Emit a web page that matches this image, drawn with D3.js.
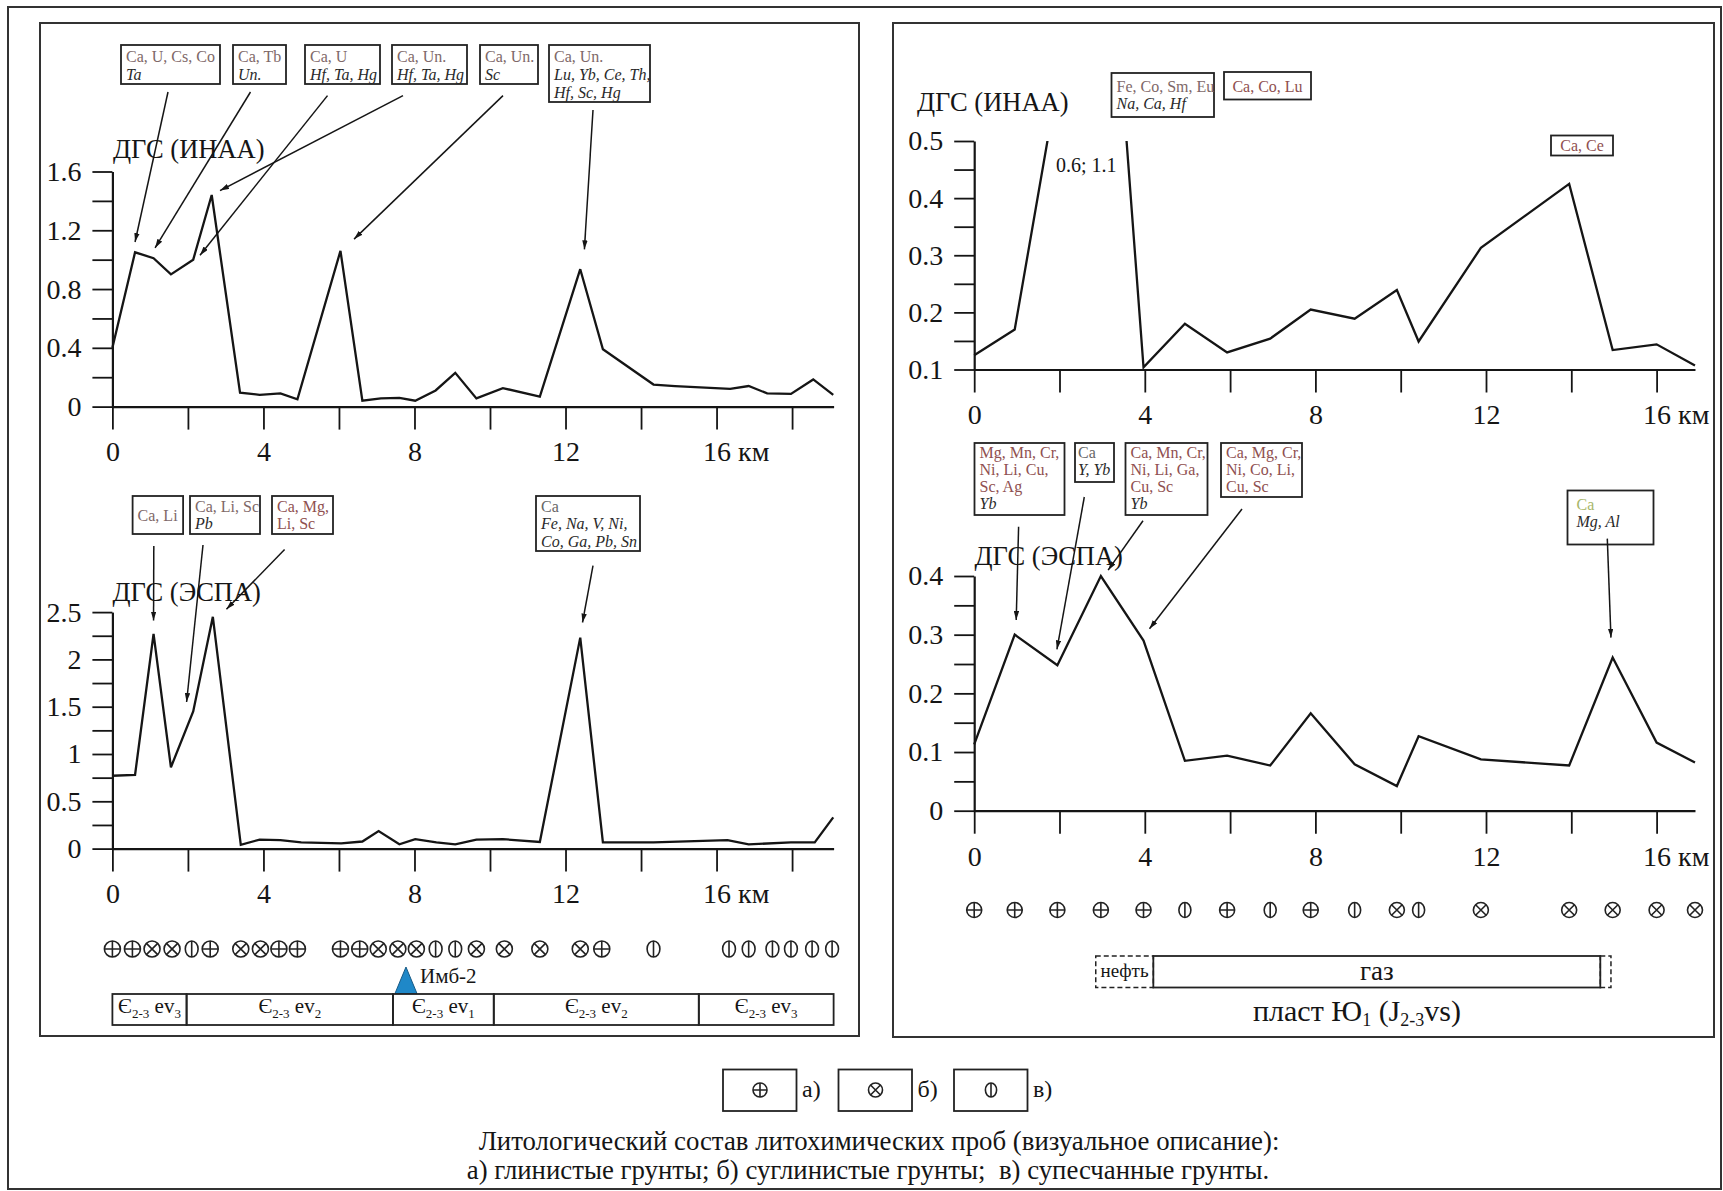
<!DOCTYPE html>
<html><head><meta charset="utf-8">
<script src="https://cdn.jsdelivr.net/npm/d3@7"></script>
<style>
body{margin:0;background:#fff}
svg{display:block}
svg text{font-family:"Liberation Serif","Times New Roman",Times,"DejaVu Serif","Noto Serif",serif}
</style></head><body>
<script>
// ---------- profile through the Imbinskaya area (left) ----------
const leftInaaKm  = [0, 0.6, 1.09, 1.55, 2.14, 2.63, 3.38, 3.9, 4.45, 4.9, 6.04, 6.62, 7.11, 7.6, 8.02, 8.56, 9.08, 9.64, 10.34, 11.32, 12.39, 12.99, 14.33, 14.9, 16.36, 16.85, 17.34, 17.97, 18.56, 19.09];
const leftInaaVal = [0.40, 1.05, 1.01, 0.90, 1.00, 1.44, 0.095, 0.08, 0.09, 0.05, 1.06, 0.04, 0.056, 0.06, 0.04, 0.11, 0.23, 0.056, 0.126, 0.068, 0.935, 0.39, 0.15, 0.14, 0.12, 0.14, 0.09, 0.086, 0.185, 0.08];

const leftEspaKm  = [0, 0.6, 1.09, 1.55, 2.14, 2.66, 3.4, 3.9, 4.45, 5.0, 6.06, 6.62, 7.05, 7.6, 8.02, 8.58, 9.08, 9.64, 10.34, 11.32, 12.39, 12.99, 14.33, 16.29, 16.85, 17.97, 18.6, 19.09];
const leftEspaVal = [0.77, 0.78, 2.27, 0.86, 1.45, 2.45, 0.04, 0.095, 0.09, 0.065, 0.055, 0.075, 0.185, 0.045, 0.10, 0.065, 0.045, 0.095, 0.10, 0.07, 2.23, 0.065, 0.065, 0.09, 0.045, 0.065, 0.065, 0.33];

// soil type of each sample: a = clay, b = loam, c = sandy loam
const leftSoilKm   = [0, 0.53, 1.05, 1.58, 2.1, 2.59, 3.4, 3.92, 4.41, 4.9, 6.04, 6.55, 7.04, 7.56, 8.05, 8.56, 9.08, 9.64, 10.38, 11.32, 12.39, 12.96, 14.33, 16.33, 16.85, 17.48, 17.97, 18.53, 19.06];
const leftSoilType = ["a","a","b","b","c","a","b","b","a","a","a","a","b","b","b","c","c","b","b","b","b","a","c","c","c","c","c","c","c"];

// stratigraphy along the profile (boundaries in km, ev index)
const stratEdges = [0, 1.965, 7.43, 10.1, 15.53, 19.1];
const stratIndex = ["3", "2", "1", "2", "3"];
const wellName = "Имб-2";
const wellKm = 7.775;

// ---------- profile across the field (right) ----------
const rightKm       = [0, 0.95, 1.95, 2.97, 3.97, 4.94, 5.93, 6.94, 7.89, 8.92, 9.91, 10.42, 11.88, 13.95, 14.97, 16.0, 16.9];
const rightInaaVal  = [0.125, 0.17, 0.6, 1.1, 0.104, 0.18, 0.13, 0.154, 0.205, 0.189, 0.239, 0.149, 0.313, 0.425, 0.134, 0.144, 0.107];
const rightEspaVal  = [0.113, 0.30, 0.248, 0.40, 0.29, 0.085, 0.094, 0.077, 0.166, 0.079, 0.042, 0.127, 0.0875, 0.077, 0.261, 0.116, 0.082];
const rightSoilType = ["a","a","a","a","a","c","a","c","a","c","b","c","b","b","b","b","b"];

const reservoirNames = ["нефть", "газ", ""];
const reservoirFrom  = [2.85, 4.2, 14.68];
const reservoirTo    = [4.2, 14.68, 14.93];
const reservoirSure  = [false, true, false];

// ---------- ticks ----------
const leftKmTicks  = [0, 2, 4, 6, 8, 10, 12, 14, 16, 18];
const rightKmTicks = [0, 2, 4, 6, 8, 10, 12, 14, 16];
const leftInaaMajor  = [0, 0.4, 0.8, 1.2, 1.6],   leftInaaMinor  = [0.2, 0.6, 1.0, 1.4];
const leftEspaMajor  = [0, 0.5, 1, 1.5, 2, 2.5],  leftEspaMinor  = [0.25, 0.75, 1.25, 1.75, 2.25];
const rightInaaMajor = [0.1, 0.2, 0.3, 0.4, 0.5], rightInaaMinor = [0.15, 0.25, 0.35, 0.45];
const rightEspaMajor = [0, 0.1, 0.2, 0.3, 0.4],   rightEspaMinor = [0.05, 0.15, 0.25, 0.35];

// ---------- element lists of anomalies
// (r = concentrating, q = concentrating, faint, g = neutral, o = olive, i = dispersed) ----------
const leftInaaNotes = [
  [["Ca, U, Cs, Co","q"],["Ta","i"]],
  [["Ca, Tb","q"],["Un.","i"]],
  [["Ca, U","q"],["Hf, Ta, Hg","i"]],
  [["Ca, Un.","q"],["Hf, Ta, Hg","i"]],
  [["Ca, Un.","q"],["Sc","i"]],
  [["Ca, Un.","q"],["Lu, Yb, Ce, Th,","i"],["Hf, Sc, Hg","i"]]
];
const leftEspaNotes = [
  [["Ca, Li","q"]],
  [["Ca, Li, Sc","q"],["Pb","i"]],
  [["Ca, Mg,","r"],["Li, Sc","r"]],
  [["Ca","g"],["Fe, Na, V, Ni,","i"],["Co, Ga, Pb, Sn","i"]]
];
const rightInaaNotes = [
  [["Fe, Co, Sm, Eu","q"],["Na, Ca, Hf","i"]],
  [["Ca, Co, Lu","r"]],
  [["Ca, Ce","r"]]
];
const rightEspaNotes = [
  [["Mg, Mn, Cr,","r"],["Ni, Li, Cu,","r"],["Sc, Ag","r"],["Yb","i"]],
  [["Ca","g"],["Y, Yb","i"]],
  [["Ca, Mn, Cr,","r"],["Ni, Li, Ga,","r"],["Cu, Sc","r"],["Yb","i"]],
  [["Ca, Mg, Cr,","r"],["Ni, Co, Li,","r"],["Cu, Sc","r"]],
  [["Ca","o"],["Mg, Al","i"]]
];
const legendKeys  = ["a", "b", "c"];
const legendMarks = ["а)", "б)", "в)"];
const captionLines = [
  "Литологический состав литохимических проб (визуальное описание):",
  "а) глинистые грунты; б) суглинистые грунты;  в) супесчанные грунты."
];

// ---------- layout ----------
const INK = "#151515";
const SERIF = '"Liberation Serif","Times New Roman",Times,"DejaVu Serif","Noto Serif",serif';
const noteColor = {r: "#8f5050", q: "#7e6868", g: "#666", o: "#a8b66a", i: "#2a2a2a"};

const svg = d3.select("body").append("svg").attr("width", 1723).attr("height", 1191)
  .style("font-family", SERIF);
svg.append("rect").attr("width", 1723).attr("height", 1191).attr("fill", "#fff");

const defs = svg.append("defs");
defs.append("marker").attr("id", "head").attr("viewBox", "0 0 10 6")
  .attr("refX", 10).attr("refY", 3).attr("markerWidth", 9).attr("markerHeight", 5.5)
  .attr("markerUnits", "userSpaceOnUse").attr("orient", "auto")
  .append("path").attr("d", "M0,0L10,3L0,6z").attr("fill", INK);

// frames
svg.append("rect").attr("x", 8).attr("y", 7).attr("width", 1713).attr("height", 1182)
  .attr("fill", "none").attr("stroke", "#333").attr("stroke-width", 2);
svg.append("rect").attr("x", 40).attr("y", 23).attr("width", 819).attr("height", 1013)
  .attr("fill", "none").attr("stroke", "#333").attr("stroke-width", 2);
svg.append("rect").attr("x", 893).attr("y", 23).attr("width", 821).attr("height", 1014)
  .attr("fill", "none").attr("stroke", "#333").attr("stroke-width", 2);

// scales
const xL = d3.scaleLinear().domain([0, 19.1]).range([112.4, 112.4 + 19.1 * 37.76]);
const xR = d3.scaleLinear().domain([0, 16.9]).range([974.2, 974.2 + 16.9 * 42.65]);
const yLI = d3.scaleLinear().domain([0, 1.6]).range([406.6, 171.5]);
const yLE = d3.scaleLinear().domain([0, 2.5]).range([848.6, 612.1]);
const yRI = d3.scaleLinear().domain([0.1, 0.5]).range([369.5, 141]);
const yRE = d3.scaleLinear().domain([0, 0.4]).range([810.7, 576]);

function drawAxes(x, y, xTicks, yMajor, yMinor) {
  const ax = svg.append("g").attr("transform", `translate(0,${y.range()[0]})`)
    .call(d3.axisBottom(x).tickValues(xTicks).tickSize(23).tickSizeOuter(0).tickPadding(12)
      .tickFormat(d => d % 4 === 0 ? String(d) : ""));
  const ay = svg.append("g").attr("transform", `translate(${x.range()[0]},0)`)
    .call(d3.axisLeft(y).tickValues(yMajor.concat(yMinor)).tickSize(20).tickSizeOuter(0).tickPadding(11)
      .tickFormat(d => yMajor.includes(d) ? String(d) : ""));
  [ax, ay].forEach(a => {
    a.attr("font-size", 28).attr("font-family", null).style("font-family", SERIF);
    a.selectAll("path").attr("stroke", INK).attr("stroke-width", 2.2);
    a.selectAll("line").attr("stroke", INK).attr("stroke-width", 1.8);
    a.selectAll("text").attr("fill", INK);
  });
  ax.selectAll(".tick text").filter(d => d === 16).each(function () {
    const w = this.getComputedTextLength();
    d3.select(this).attr("text-anchor", "start").attr("x", -w / 2).text("16 км");
  });
}

function drawLine(km, val, x, y, clip) {
  const p = svg.append("path").datum(d3.zip(km, val))
    .attr("d", d3.line().x(d => x(d[0])).y(d => y(d[1])))
    .attr("fill", "none").attr("stroke", INK).attr("stroke-width", 2.3)
    .attr("stroke-linejoin", "miter").attr("stroke-miterlimit", 3);
  if (clip) p.attr("clip-path", `url(#${clip})`);
}

function title(txt, x, y) {
  svg.append("text").attr("x", x).attr("y", y).attr("font-size", 26.5).attr("fill", INK).text(txt);
}

function drawNotes(notes, boxes, x, y, b0, lh) {
  notes.forEach((lines, i) => {
    const b = boxes[i];
    const g = svg.append("g");
    g.append("rect").attr("x", b.x).attr("y", b.y).attr("width", b.w).attr("height", b.h)
      .attr("fill", "#fff").attr("stroke", "#222").attr("stroke-width", 1.8);
    lines.forEach((ln, j) => {
      const t = g.append("text")
        .attr("x", b.center ? b.x + b.w / 2 : b.x + (b.pad || 5))
        .attr("y", b.y + (b.b0 || b0) + j * lh)
        .attr("text-anchor", b.center ? "middle" : "start")
        .attr("font-size", 16).attr("fill", noteColor[ln[1]]).text(ln[0]);
      if (ln[1] === "i") t.attr("font-style", "italic");
    });
    if (b.from) {
      svg.append("line").attr("x1", b.from[0]).attr("y1", b.from[1])
        .attr("x2", x(b.tip[0])).attr("y2", y(b.tip[1]))
        .attr("stroke", INK).attr("stroke-width", 1.5).attr("marker-end", "url(#head)");
    }
  });
}

function soilMark(g, type, cx, cy, r) {
  const s = {fill: "none", stroke: "#222", "stroke-width": 1.6};
  const set = (el) => { Object.entries(s).forEach(([k, v]) => el.attr(k, v)); return el; };
  if (type === "c") {
    set(g.append("ellipse").attr("cx", cx).attr("cy", cy).attr("rx", r * 0.8).attr("ry", r));
    set(g.append("path").attr("d", `M${cx},${cy - r}V${cy + r}`));
  } else {
    set(g.append("circle").attr("cx", cx).attr("cy", cy).attr("r", r));
    const d = type === "a"
      ? `M${cx - r},${cy}H${cx + r}M${cx},${cy - r}V${cy + r}`
      : `M${cx - r * 0.707},${cy - r * 0.707}L${cx + r * 0.707},${cy + r * 0.707}M${cx + r * 0.707},${cy - r * 0.707}L${cx - r * 0.707},${cy + r * 0.707}`;
    set(g.append("path").attr("d", d));
  }
}

// ---------- left panel ----------
drawAxes(xL, yLI, leftKmTicks, leftInaaMajor, leftInaaMinor);
title("ДГС (ИНАА)", 113, 158);
drawLine(leftInaaKm, leftInaaVal, xL, yLI);
drawNotes(leftInaaNotes, [
  {x: 121, y: 45, w: 99, h: 39, from: [168, 92], tip: [0.6, 1.12]},
  {x: 233, y: 45, w: 53, h: 39, from: [250.5, 92], tip: [1.13, 1.08]},
  {x: 305, y: 45, w: 75, h: 39, from: [327.5, 95.6], tip: [2.32, 1.03]},
  {x: 392, y: 45, w: 75, h: 39, from: [403, 95.6], tip: [2.85, 1.47]},
  {x: 480, y: 45, w: 58, h: 39, from: [503, 95.6], tip: [6.4, 1.14]},
  {x: 549, y: 45, w: 101, h: 57, from: [593, 110], tip: [12.5, 1.07]}
], xL, yLI, 16.7, 18.3);

drawAxes(xL, yLE, leftKmTicks, leftEspaMajor, leftEspaMinor);
title("ДГС (ЭСПА)", 112.5, 601);
drawLine(leftEspaKm, leftEspaVal, xL, yLE);
drawNotes(leftEspaNotes, [
  {x: 132.6, y: 496, w: 50.5, h: 38, b0: 25, from: [153.8, 546], tip: [1.09, 2.41]},
  {x: 190, y: 496, w: 70, h: 38, from: [203, 545], tip: [1.965, 1.55]},
  {x: 272, y: 496, w: 61, h: 38, from: [284.6, 549.6], tip: [3.02, 2.53]},
  {x: 536, y: 496, w: 104, h: 55, from: [593, 565.7], tip: [12.45, 2.39]}
], xL, yLE, 15.5, 17.5);

const soilL = svg.append("g");
leftSoilKm.forEach((k, i) => soilMark(soilL, leftSoilType[i], xL(k), 949, 8));

// well
const wx = xL(wellKm);
svg.append("path").attr("d", `M${wx},967L${wx + 11},993.5L${wx - 11},993.5Z`)
  .attr("fill", "#1f88c8").attr("stroke", "#185a85").attr("stroke-width", 1);
svg.append("text").attr("x", wx + 14).attr("y", 983).attr("font-size", 21).attr("fill", INK).text(wellName);

// stratigraphic bar
const strat = svg.append("g");
stratIndex.forEach((idx, i) => {
  const x0 = xL(stratEdges[i]), x1 = xL(stratEdges[i + 1]);
  strat.append("rect").attr("x", x0).attr("y", 994).attr("width", x1 - x0).attr("height", 31)
    .attr("fill", "none").attr("stroke", "#222").attr("stroke-width", 1.8);
  const t = strat.append("text").attr("x", (x0 + x1) / 2).attr("y", 1013)
    .attr("text-anchor", "middle").attr("font-size", 21).attr("fill", INK);
  t.append("tspan").text("Є");
  t.append("tspan").attr("font-size", 13).attr("dy", 5).text("2-3");
  t.append("tspan").attr("dy", -5).text(" ev");
  t.append("tspan").attr("font-size", 13).attr("dy", 5).text(idx);
});

// ---------- right panel ----------
defs.append("clipPath").attr("id", "topClip").append("rect")
  .attr("x", 900).attr("y", yRI(0.5)).attr("width", 810).attr("height", 300);
drawAxes(xR, yRI, rightKmTicks, rightInaaMajor, rightInaaMinor);
title("ДГС (ИНАА)", 917, 111);
drawLine(rightKm, rightInaaVal, xR, yRI, "topClip");
svg.append("text").attr("x", 1056).attr("y", 172).attr("font-size", 20).attr("fill", INK)
  .text(rightInaaVal[2] + "; " + rightInaaVal[3]);
drawNotes(rightInaaNotes, [
  {x: 1111.5, y: 73, w: 102.5, h: 44, b0: 18.5},
  {x: 1224, y: 72, w: 87, h: 27.5, b0: 19.5, center: true},
  {x: 1551, y: 135.5, w: 62, h: 20, b0: 15, center: true}
], xR, yRI, 18.5, 17.6);

drawAxes(xR, yRE, rightKmTicks, rightEspaMajor, rightEspaMinor);
title("ДГС (ЭСПА)", 974.5, 565);
drawLine(rightKm, rightEspaVal, xR, yRE);
drawNotes(rightEspaNotes, [
  {x: 974.5, y: 443, w: 90, h: 72, from: [1018.6, 526.8], tip: [0.985, 0.325]},
  {x: 1075, y: 443, w: 39, h: 39, from: [1084.3, 497], tip: [1.94, 0.275], pad: 3},
  {x: 1125.5, y: 443, w: 82, h: 72, from: [1143, 520.8], tip: [3.14, 0.41]},
  {x: 1221, y: 443, w: 81, h: 54, from: [1242, 509], tip: [4.11, 0.31]},
  {x: 1567.5, y: 490.5, w: 86, h: 54, b0: 19, pad: 9, from: [1607.3, 538.6], tip: [14.93, 0.295]}
], xR, yRE, 15, 17);

const soilR = svg.append("g");
rightKm.forEach((k, i) => soilMark(soilR, rightSoilType[i], xR(k), 910, 7.5));

// reservoir
const res = svg.append("g");
reservoirNames.forEach((name, i) => {
  const x0 = xR(reservoirFrom[i]), x1 = xR(reservoirTo[i]);
  const r = res.append("rect").attr("x", x0).attr("y", 956).attr("width", x1 - x0).attr("height", 31.5)
    .attr("fill", "none").attr("stroke", "#222").attr("stroke-width", reservoirSure[i] ? 1.8 : 1.5);
  if (!reservoirSure[i]) r.attr("stroke-dasharray", "5,3");
  if (name) res.append("text").attr("x", (x0 + x1) / 2).attr("y", name === "газ" ? 980 : 977)
    .attr("text-anchor", "middle").attr("font-size", name === "газ" ? 27 : 19).attr("fill", INK).text(name);
});
// solid gas contour drawn last so its edges stay solid
res.selectAll("rect").filter((d, i) => reservoirSure[i]).raise();

const plast = svg.append("text").attr("x", 1357).attr("y", 1021).attr("text-anchor", "middle")
  .attr("font-size", 30).attr("fill", INK);
plast.append("tspan").text("пласт Ю");
plast.append("tspan").attr("font-size", 18).attr("dy", 5).text("1");
plast.append("tspan").attr("dy", -5).text(" (J");
plast.append("tspan").attr("font-size", 18).attr("dy", 5).text("2-3");
plast.append("tspan").attr("dy", -5).text("vs)");

// ---------- legend ----------
const legend = svg.append("g");
const legendX = [723, 838.5, 954];
legendKeys.forEach((k, i) => {
  legend.append("rect").attr("x", legendX[i]).attr("y", 1069.5).attr("width", 73.5).attr("height", 41.5)
    .attr("fill", "none").attr("stroke", "#222").attr("stroke-width", 1.8);
  soilMark(legend, k, legendX[i] + 37, 1090, 7);
  legend.append("text").attr("x", legendX[i] + 79).attr("y", 1097).attr("font-size", 24)
    .attr("fill", INK).text(legendMarks[i]);
});
const captionX = [879, 868];
captionLines.forEach((s, i) => {
  svg.append("text").attr("x", captionX[i]).attr("y", 1150 + i * 29).attr("text-anchor", "middle")
    .attr("font-size", 26.8).attr("fill", INK).style("white-space", "pre").text(s);
});
</script>
</body></html>
